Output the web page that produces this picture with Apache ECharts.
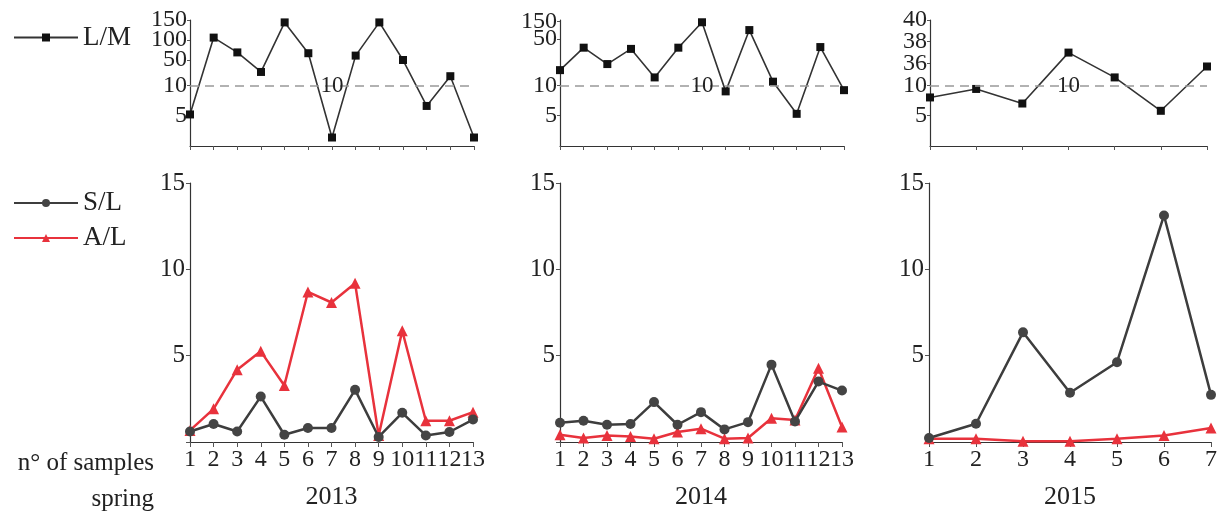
<!DOCTYPE html>
<html>
<head>
<meta charset="utf-8">
<script src="https://cdn.jsdelivr.net/npm/echarts@6.0.0/dist/echarts.min.js"></script>
<style>
html, body { margin: 0; padding: 0; background: #fff; }
#chart { width: 1220px; height: 515px; }
</style>
</head>
<body>
<div id="chart"></div>
<script>
// ---- data ----
var years = ['2013', '2014', '2015'];
var samples13 = ['1', '2', '3', '4', '5', '6', '7', '8', '9', '10', '11', '12', '13'];
var samples7 = ['1', '2', '3', '4', '5', '6', '7'];

// L/M ratio (top row, broken axis)
var LM_2013 = [5.2, 106, 69, 12.2, 144, 67, 1.4, 61, 144, 50, 6.6, 11.5, 1.4];
var LM_2014 = [12.5, 16.2, 13.5, 16.0, 11.3, 16.2, 146, 9.0, 101, 10.6, 5.3, 16.3, 9.2];
var LM_2015 = [8.0, 9.4, 7.0, 37.0, 11.3, 5.8, 13.1];

// S/L and A/L (bottom row)
var SL_2013 = [0.61, 1.04, 0.61, 2.63, 0.42, 0.81, 0.81, 3.02, 0.29, 1.69, 0.38, 0.58, 1.30];
var AL_2013 = [0.67, 1.92, 4.19, 5.25, 3.27, 8.69, 8.08, 9.19, 0.38, 6.44, 1.23, 1.23, 1.73];
var SL_2014 = [1.11, 1.23, 1.00, 1.04, 2.31, 1.00, 1.73, 0.73, 1.15, 4.48, 1.19, 3.50, 2.98];
var AL_2014 = [0.42, 0.23, 0.38, 0.32, 0.19, 0.58, 0.77, 0.19, 0.23, 1.38, 1.27, 4.27, 0.87];
var SL_2015 = [0.23, 1.06, 6.35, 2.85, 4.62, 13.12, 2.73];
var AL_2015 = [0.19, 0.19, 0.04, 0.05, 0.19, 0.38, 0.81];

// tick labels of the broken L/M axes
var LM_ticks_2013 = [5, 10, 50, 100, 150];
var LM_ticks_2014 = [5, 10, 50, 150];
var LM_ticks_2015 = [5, 10, 36, 38, 40];
var LM_threshold = 10;
var bottomMax = 15;

// broken axis: [value, axis position] knots, lower part 1:1, upper part compressed
var knots2013 = [[0, 0], [13.6, 13.6], [41.4, 13.6], [150, 20.76]];
var knots2014 = [[0, 0], [17.5, 17.5], [45, 17.5], [150, 20.5]];
var knots2015 = [[0, 0], [13.6, 13.6], [36, 13.6], [40, 20.76]];
var topAxisMax = 20.76;

function toAxis(knots, v) {
	for (var i = 1; i < knots.length; i++) {
		var a = knots[i - 1], b = knots[i];
		if (v <= b[0]) {
			if (b[0] === a[0]) return b[1];
			return a[1] + (v - a[0]) * (b[1] - a[1]) / (b[0] - a[0]);
		}
	}
	return knots[knots.length - 1][1];
}

var panels = [
	{ cats: samples13, lm: LM_2013, sl: SL_2013, al: AL_2013, ticks: LM_ticks_2013, knots: knots2013,
	  topLeft: 190, topWidth: 284, botLeft: 190, botWidth: 283 },
	{ cats: samples13, lm: LM_2014, sl: SL_2014, al: AL_2014, ticks: LM_ticks_2014, knots: knots2014,
	  topLeft: 560, topWidth: 284, botLeft: 560, botWidth: 282 },
	{ cats: samples7, lm: LM_2015, sl: SL_2015, al: AL_2015, ticks: LM_ticks_2015, knots: knots2015,
	  topLeft: 930, topWidth: 277, botLeft: 929, botWidth: 284 }
];

var serif = '"Liberation Serif", "DejaVu Serif", serif';
var textColor = '#222';
var axisColor = '#333';

var grid = [], xAxis = [], yAxis = [], series = [];

panels.forEach(function(p, i) {
	var topGrid = grid.length;
	grid.push({ left: p.topLeft, top: 20, width: p.topWidth, height: 126 });
	var botGrid = grid.length;
	grid.push({ left: p.botLeft, top: 183, width: p.botWidth, height: 260 });

	var labelMap = {};
	var tickPos = p.ticks.map(function(t) {
		var d = toAxis(p.knots, t);
		labelMap[d.toFixed(3)] = String(t);
		return d;
	});
	// the tick labels are packed tightly; spread them over two overlaid axes
	// so that none of them gets dropped as overlapping
	var posA = tickPos.filter(function(d, k) { return k % 2 === 0; });
	var posB = tickPos.filter(function(d, k) { return k % 2 === 1; });
	var fmt = function(val) { return labelMap[val.toFixed(3)] || ''; };

	var topX = xAxis.length;
	xAxis.push({
		type: 'category', gridIndex: topGrid, data: p.cats, boundaryGap: false,
		axisLine: { lineStyle: { color: axisColor, width: 1.2 } },
		axisTick: { alignWithLabel: true, length: 4, lineStyle: { color: '#555' } },
		axisLabel: { show: false }
	});
	var botX = xAxis.length;
	xAxis.push({
		type: 'category', gridIndex: botGrid, data: p.cats, boundaryGap: false,
		name: years[i], nameLocation: 'middle', nameGap: 42,
		nameTextStyle: { fontFamily: serif, fontSize: 26, color: textColor },
		axisLine: { lineStyle: { color: axisColor, width: 1.2 } },
		axisTick: { length: 5, lineStyle: { color: '#555' } },
		axisLabel: { fontFamily: serif, fontSize: 24, color: textColor, margin: 6, interval: 0, hideOverlap: false }
	});

	var topY = yAxis.length;
	yAxis.push({
		type: 'value', gridIndex: topGrid, min: 0, max: topAxisMax,
		splitLine: { show: false },
		axisLine: { show: true, lineStyle: { color: axisColor, width: 1.2 } },
		axisTick: { show: true, length: 3, customValues: tickPos, lineStyle: { color: '#555' } },
		axisLabel: {
			customValues: posA, fontFamily: serif, fontSize: 24, color: textColor, margin: 3,
			showMinLabel: true, showMaxLabel: true, formatter: fmt
		}
	});
	yAxis.push({
		type: 'value', gridIndex: topGrid, min: 0, max: topAxisMax, position: 'left', offset: 0,
		splitLine: { show: false },
		axisLine: { show: false },
		axisTick: { show: false },
		axisLabel: {
			customValues: posB, fontFamily: serif, fontSize: 24, color: textColor, margin: 3,
			showMinLabel: true, showMaxLabel: true, formatter: fmt
		}
	});
	var botY = yAxis.length;
	yAxis.push({
		type: 'value', gridIndex: botGrid, min: 0, max: bottomMax, interval: 5,
		splitLine: { show: false },
		axisLine: { show: true, lineStyle: { color: axisColor, width: 1.2 } },
		axisTick: { show: true, length: 4, lineStyle: { color: '#555' } },
		axisLabel: {
			fontFamily: serif, fontSize: 25, color: textColor, margin: 5,
			showMaxLabel: true,
			formatter: function(val) { return val === 0 ? '' : String(val); }
		}
	});

	series.push({
		name: 'L/M', type: 'line', xAxisIndex: topX, yAxisIndex: topY,
		data: p.lm.map(function(v) { return toAxis(p.knots, v); }),
		symbol: 'rect', symbolSize: 8, color: '#111',
		lineStyle: { color: '#333', width: 1.6 },
		markLine: {
			silent: true, symbol: 'none',
			data: [{ yAxis: toAxis(p.knots, LM_threshold) }],
			lineStyle: { color: '#999', type: [9, 6], width: 1.5 },
			label: {
				show: true, position: 'middle', formatter: String(LM_threshold),
				fontFamily: serif, fontSize: 23, color: textColor, distance: -12
			}
		}
	});
	series.push({
		name: 'A/L', type: 'line', xAxisIndex: botX, yAxisIndex: botY,
		data: p.al, symbol: 'triangle', symbolSize: 11, color: '#e8323c',
		lineStyle: { color: '#e8323c', width: 2.5 }
	});
	series.push({
		name: 'S/L', type: 'line', xAxisIndex: botX, yAxisIndex: botY,
		data: p.sl, symbol: 'circle', symbolSize: 10, color: '#444',
		lineStyle: { color: '#3d3d3d', width: 2.5 }
	});
});

var chart = echarts.init(document.getElementById('chart'));
chart.setOption({
	animation: false,
	backgroundColor: '#fff',
	legend: [
		{
			data: ['L/M'], left: 13, top: 24, padding: 0, itemWidth: 64, itemHeight: 10, itemGap: 8,
			textStyle: { fontFamily: serif, fontSize: 27, color: textColor }
		},
		{
			data: ['S/L', 'A/L'], orient: 'vertical', left: 13, top: 189, padding: 0,
			itemWidth: 64, itemHeight: 10, itemGap: 7,
			textStyle: { fontFamily: serif, fontSize: 27, color: textColor, lineHeight: 28 }
		}
	],
	graphic: [
		{ type: 'text', x: 154, y: 463, style: { text: 'n° of samples', font: '25px ' + serif, fill: textColor, align: 'right', verticalAlign: 'middle' } },
		{ type: 'text', x: 154, y: 499, style: { text: 'spring', font: '25px ' + serif, fill: textColor, align: 'right', verticalAlign: 'middle' } }
	],
	grid: grid,
	xAxis: xAxis,
	yAxis: yAxis,
	series: series
});
</script>
</body>
</html>
